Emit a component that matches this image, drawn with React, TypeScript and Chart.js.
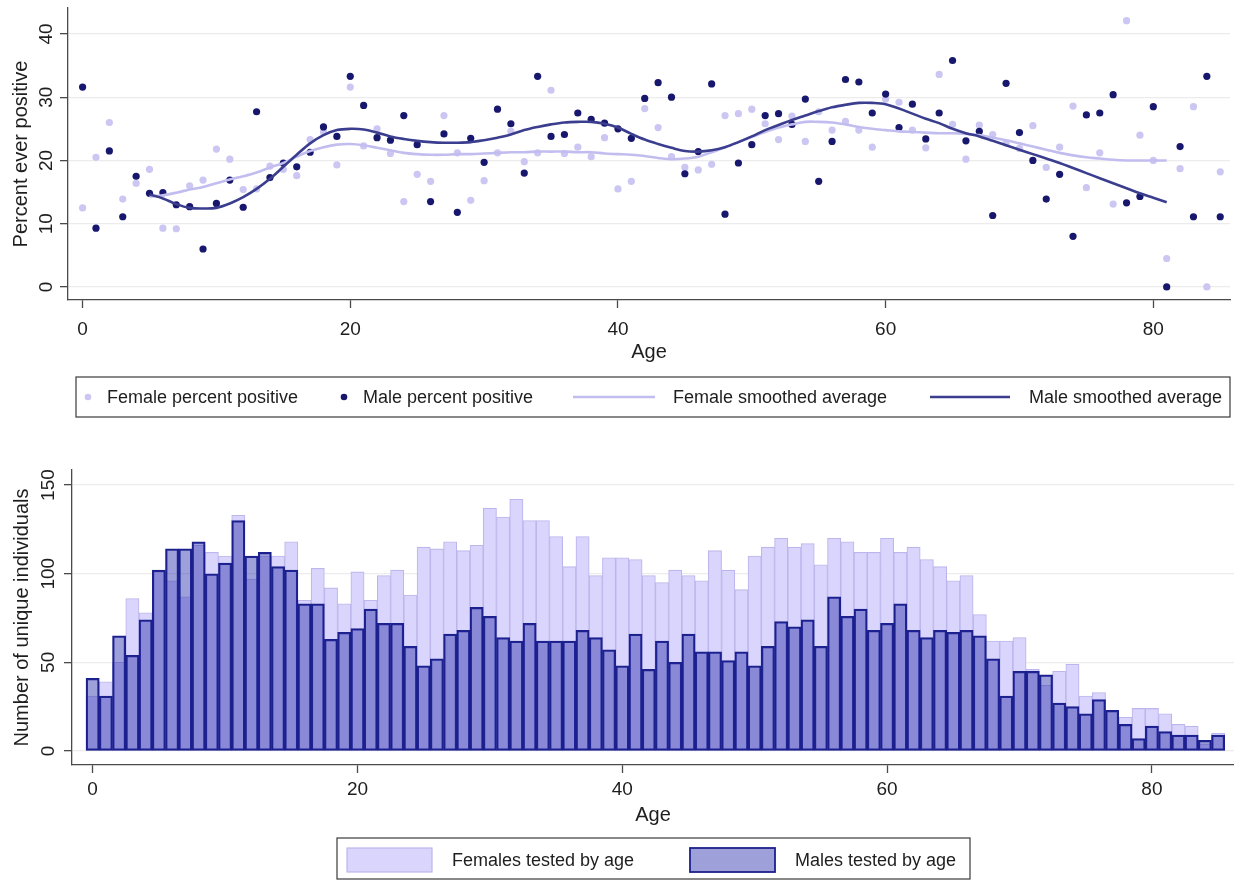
import React, { useEffect, useRef } from 'react';
import { Chart, registerables } from 'chart.js';

Chart.register(...registerables);

const FONT = "'Liberation Sans', Arial, sans-serif";

// ---------- data ----------
const ages = [
  0, 1, 2, 3, 4, 5, 6, 7, 8, 9, 10, 11, 12, 13, 14, 15, 16, 17, 18, 19,
  20, 21, 22, 23, 24, 25, 26, 27, 28, 29, 30, 31, 32, 33, 34, 35, 36, 37, 38, 39,
  40, 41, 42, 43, 44, 45, 46, 47, 48, 49, 50, 51, 52, 53, 54, 55, 56, 57, 58, 59,
  60, 61, 62, 63, 64, 65, 66, 67, 68, 69, 70, 71, 72, 73, 74, 75, 76, 77, 78, 79,
  80, 81, 82, 83, 84, 85,
];

const femalePct = [
  12.5, 20.5, 26.0, 13.9, 16.4, 18.6, 9.3, 9.2, 16.0, 16.9,
  21.8, 20.2, 15.4, 15.5, 19.1, 18.6, 17.6, 23.3, 24.5, 19.3,
  31.6, 22.3, 25.0, 21.1, 13.5, 17.8, 16.7, 27.1, 21.2, 13.7,
  16.8, 21.2, 24.6, 19.8, 21.2, 31.1, 21.1, 22.1, 20.6, 23.6,
  15.5, 16.7, 28.2, 25.2, 20.6, 18.9, 18.5, 19.4, 27.1, 27.4,
  28.1, 25.8, 23.3, 27.0, 23.0, 27.7, 24.8, 26.2, 24.8, 22.1,
  29.7, 29.2, 24.8, 22.0, 33.6, 25.7, 20.2, 25.6, 24.1, 22.7,
  21.9, 25.5, 18.9, 22.1, 28.6, 15.7, 21.2, 13.1, 42.1, 24.0,
  20.0, 4.5, 18.7, 28.5, 0.0, 18.2,
];

const malePct = [
  31.6, 9.3, 21.5, 11.1, 17.5, 14.8, 14.9, 13.0, 12.7, 6.0,
  13.2, 16.9, 12.6, 27.7, 17.3, 19.6, 19.0, 21.3, 25.3, 23.8,
  33.3, 28.7, 23.6, 23.2, 27.1, 22.5, 13.5, 24.2, 11.8, 23.5,
  19.7, 28.1, 25.8, 18.0, 33.3, 23.8, 24.1, 27.5, 26.5, 25.9,
  25.0, 23.5, 29.8, 32.3, 30.0, 17.9, 21.4, 32.1, 11.5, 19.6,
  22.5, 27.1, 27.4, 25.7, 29.7, 16.7, 23.0, 32.8, 32.4, 27.5,
  30.5, 25.2, 28.9, 23.4, 27.5, 35.8, 23.1, 24.6, 11.3, 32.2,
  24.4, 20.0, 13.9, 17.8, 8.0, 27.2, 27.5, 30.4, 13.3, 14.3,
  28.5, 0.0, 22.2, 11.1, 33.3, 11.1,
];

const smoothAges = ages.slice(5, 82);

const femaleSmooth = [
  14.3, 14.5, 14.9, 15.4, 15.8, 16.4, 17.0, 17.5, 18.1, 18.9,
  19.6, 20.6, 21.5, 22.1, 22.5, 22.6, 22.4, 22.0, 21.6, 21.2,
  21.0, 20.9, 20.9, 21.0, 21.0, 21.1, 21.2, 21.3, 21.3, 21.4,
  21.4, 21.4, 21.3, 21.3, 21.1, 21.0, 20.9, 20.7, 20.4, 20.2,
  20.3, 20.6, 21.3, 22.1, 22.9, 23.7, 24.5, 25.2, 25.7, 26.1,
  26.1, 26.0, 25.7, 25.3, 25.0, 24.8, 24.6, 24.5, 24.4, 24.3,
  24.3, 24.2, 24.0, 23.6, 23.2, 22.7, 22.2, 21.7, 21.2, 20.8,
  20.5, 20.3, 20.1, 20.0, 20.0, 20.0, 20.0,
];

const maleSmooth = [
  14.6, 14.0, 13.1, 12.5, 12.4, 12.5, 13.2, 14.2, 15.5, 17.1,
  19.0, 20.9, 22.7, 24.0, 24.8, 25.0, 24.9, 24.4, 23.8, 23.4,
  23.1, 22.9, 22.8, 22.8, 22.9, 23.2, 23.6, 24.1, 24.8, 25.3,
  25.7, 26.0, 26.1, 26.1, 25.8, 25.2, 24.2, 23.3, 22.6, 22.0,
  21.5, 21.4, 21.6, 22.1, 22.9, 23.8, 24.8, 25.6, 26.4, 27.1,
  27.8, 28.4, 28.8, 29.1, 29.1, 28.9, 28.2, 27.4, 26.6, 25.9,
  25.0, 24.3, 23.8, 23.1, 22.4, 21.7, 21.0, 20.3, 19.6, 18.8,
  18.0, 17.2, 16.4, 15.6, 14.8, 14.1, 13.4,
];

const femaleCounts = [
  31, 39, 50, 86, 78, 101, 96, 87, 116, 112,
  110, 133, 97, 110, 110, 118, 85, 103, 92, 83,
  101, 85, 99, 102, 88, 115, 114, 118, 113, 116,
  137, 132, 142, 130, 130, 121, 104, 121, 99, 109,
  109, 108, 99, 95, 102, 99, 96, 113, 102, 91,
  110, 115, 120, 115, 117, 105, 120, 118, 112, 112,
  120, 112, 115, 108, 104, 96, 99, 77, 62, 62,
  64, 46, 37, 45, 49, 31, 33, 23, 19, 24,
  24, 21, 15, 14, 4, 10,
];

const maleCounts = [
  41, 31, 65, 54, 74, 102, 114, 114, 118, 100,
  106, 130, 110, 112, 104, 102, 83, 83, 63, 67,
  69, 80, 72, 72, 59, 48, 52, 66, 68, 81,
  76, 64, 62, 72, 62, 62, 62, 68, 64, 57,
  48, 66, 46, 62, 50, 66, 56, 56, 51, 56,
  48, 59, 73, 70, 74, 59, 87, 76, 80, 68,
  72, 83, 68, 64, 68, 67, 68, 65, 52, 31,
  45, 45, 43, 27, 25, 21, 29, 23, 15, 7,
  14, 11, 9, 9, 6, 9,
];

const pctTicks = [0, 10, 20, 30, 40];
const countTicks = [0, 50, 100, 150];
const ageTicks = [0, 20, 40, 60, 80];

// ---------- styles ----------
const FEMALE_PT = '#cbc6f2';
const MALE_PT = '#17176e';
const FEMALE_LINE = '#c2bdef';
const MALE_LINE = '#3b3e8e';
const FEMALE_FILL = 'rgb(217,213,252)';
const FEMALE_BORDER = 'rgb(188,182,236)';
const MALE_FILL = 'rgba(40,45,170,0.45)';
const MALE_BORDER = 'rgb(28,32,140)';
const AXIS = '#4a4a4a';
const GRID = '#ececec';
const TEXT = '#1e1e1e';

const toXY = (xs: number[], ys: number[]) => ys.map((y, i) => ({ x: xs[i], y }));

type LegendItem = {
  kind: 'dot' | 'line' | 'box';
  x1: number;
  x2: number;
  textX: number;
  fill: string;
  stroke?: string;
  lw?: number;
  label: string;
};

function boxLegend(
  id: string,
  box: { x1: number; y1: number; x2: number; y2: number },
  cy: number,
  items: LegendItem[],
) {
  return {
    id,
    afterDraw(chart: any) {
      const ctx: CanvasRenderingContext2D = chart.ctx;
      ctx.save();
      ctx.strokeStyle = '#3a3a3a';
      ctx.lineWidth = 1.2;
      ctx.strokeRect(box.x1, box.y1, box.x2 - box.x1, box.y2 - box.y1);
      items.forEach((it) => {
        if (it.kind === 'dot') {
          ctx.beginPath();
          ctx.fillStyle = it.fill;
          ctx.arc(it.x1, cy, 3.3, 0, Math.PI * 2);
          ctx.fill();
        } else if (it.kind === 'line') {
          ctx.beginPath();
          ctx.strokeStyle = it.fill;
          ctx.lineWidth = it.lw || 2;
          ctx.moveTo(it.x1, cy);
          ctx.lineTo(it.x2, cy);
          ctx.stroke();
        } else {
          ctx.fillStyle = it.fill;
          ctx.fillRect(it.x1, cy - 12, it.x2 - it.x1, 24);
          ctx.strokeStyle = it.stroke || it.fill;
          ctx.lineWidth = it.lw || 1;
          ctx.strokeRect(it.x1, cy - 12, it.x2 - it.x1, 24);
        }
        ctx.font = `18px ${FONT}`;
        ctx.fillStyle = TEXT;
        ctx.textAlign = 'left';
        ctx.textBaseline = 'middle';
        ctx.fillText(it.label, it.textX, cy + 1);
      });
      ctx.restore();
    },
  };
}

function fixedScale(size: number, horizontal: boolean, tickValues: number[]) {
  return {
    afterBuildTicks: (scale: any) => {
      scale.ticks = tickValues.map((v) => ({ value: v }));
    },
    afterFit: (scale: any) => {
      if (horizontal) scale.height = size;
      else scale.width = size;
      scale.paddingTop = 0;
      scale.paddingBottom = 0;
      scale.paddingLeft = 0;
      scale.paddingRight = 0;
    },
  };
}

function topConfig(): any {
  return {
    type: 'scatter',
    data: {
      datasets: [
        {
          label: 'Male smoothed average',
          data: toXY(smoothAges, maleSmooth),
          showLine: true,
          borderColor: MALE_LINE,
          backgroundColor: MALE_LINE,
          borderWidth: 2.6,
          pointRadius: 0,
          tension: 0.35,
          order: 0,
        },
        {
          label: 'Female smoothed average',
          data: toXY(smoothAges, femaleSmooth),
          showLine: true,
          borderColor: FEMALE_LINE,
          backgroundColor: FEMALE_LINE,
          borderWidth: 2.6,
          pointRadius: 0,
          tension: 0.35,
          order: 1,
        },
        {
          label: 'Male percent positive',
          data: toXY(ages, malePct),
          pointRadius: 3.6,
          pointBorderWidth: 0,
          pointBackgroundColor: MALE_PT,
          borderColor: MALE_PT,
          backgroundColor: MALE_PT,
          order: 2,
        },
        {
          label: 'Female percent positive',
          data: toXY(ages, femalePct),
          pointRadius: 3.6,
          pointBorderWidth: 0,
          pointBackgroundColor: FEMALE_PT,
          borderColor: FEMALE_PT,
          backgroundColor: FEMALE_PT,
          order: 3,
        },
      ],
    },
    options: {
      animation: false,
      responsive: false,
      maintainAspectRatio: false,
      events: [],
      layout: { padding: { top: 8, right: 0, bottom: 65, left: 0 } },
      plugins: { legend: { display: false }, tooltip: { enabled: false } },
      scales: {
        x: {
          type: 'linear',
          min: -1.09,
          max: 85.73,
          ...fixedScale(65, true, ageTicks),
          grid: { drawOnChartArea: false, drawTicks: true, tickLength: 8, tickColor: AXIS, tickWidth: 1.3 },
          border: { color: AXIS, width: 1.3 },
          ticks: { color: TEXT, font: { family: FONT, size: 19 }, padding: 10.5, autoSkip: false, maxRotation: 0, includeBounds: false },
          title: { display: true, text: 'Age', color: TEXT, font: { family: FONT, size: 20 }, padding: { top: 0, bottom: 1 } },
        },
        y: {
          type: 'linear',
          min: -2.06,
          max: 44.1,
          ...fixedScale(68, false, pctTicks),
          grid: { color: GRID, lineWidth: 1.3, tickLength: 8, tickColor: AXIS, tickWidth: 1.3 },
          border: { color: AXIS, width: 1.3 },
          ticks: {
            color: TEXT,
            font: { family: FONT, size: 19 },
            minRotation: 90,
            maxRotation: 90,
            crossAlign: 'center',
            padding: 2.4,
            autoSkip: false,
            includeBounds: false,
          },
          title: { display: true, text: 'Percent ever positive', color: TEXT, font: { family: FONT, size: 20 }, padding: { top: 9, bottom: 0 } },
        },
      },
    },
    plugins: [
      boxLegend('topLegend', { x1: 76, y1: 377, x2: 1230, y2: 417 }, 397, [
        { kind: 'dot', x1: 88, x2: 88, textX: 107, fill: FEMALE_PT, label: 'Female percent positive' },
        { kind: 'dot', x1: 344, x2: 344, textX: 363, fill: MALE_PT, label: 'Male percent positive' },
        { kind: 'line', x1: 573, x2: 655, textX: 673, fill: FEMALE_LINE, lw: 2.4, label: 'Female smoothed average' },
        { kind: 'line', x1: 930, x2: 1010, textX: 1029, fill: MALE_LINE, lw: 2.4, label: 'Male smoothed average' },
      ]),
    ],
  };
}

function bottomConfig(): any {
  return {
    type: 'bar',
    data: {
      datasets: [
        {
          label: 'Males tested by age',
          data: toXY(ages, maleCounts),
          backgroundColor: MALE_FILL,
          borderColor: MALE_BORDER,
          borderWidth: 1.6,
          borderSkipped: false,
          grouped: false,
          barPercentage: 1,
          categoryPercentage: 1,
          order: 0,
        },
        {
          label: 'Females tested by age',
          data: toXY(ages, femaleCounts),
          backgroundColor: FEMALE_FILL,
          borderColor: FEMALE_BORDER,
          borderWidth: 1.1,
          borderSkipped: false,
          grouped: false,
          barPercentage: 1,
          categoryPercentage: 1,
          order: 1,
        },
      ],
    },
    options: {
      animation: false,
      responsive: false,
      maintainAspectRatio: false,
      events: [],
      layout: { padding: { top: 40, right: 0, bottom: 52, left: 0 } },
      plugins: { legend: { display: false }, tooltip: { enabled: false } },
      scales: {
        x: {
          type: 'linear',
          offset: false,
          min: -1.56,
          max: 86.2,
          ...fixedScale(63, true, ageTicks),
          grid: { offset: false, drawOnChartArea: false, drawTicks: true, tickLength: 8, tickColor: AXIS, tickWidth: 1.3 },
          border: { color: AXIS, width: 1.3 },
          ticks: { color: TEXT, font: { family: FONT, size: 19 }, padding: 5.6, autoSkip: false, maxRotation: 0, includeBounds: false },
          title: { display: true, text: 'Age', color: TEXT, font: { family: FONT, size: 20 }, padding: { top: 0, bottom: 1 } },
        },
        y: {
          type: 'linear',
          min: -7.9,
          max: 158.5,
          ...fixedScale(72, false, countTicks),
          grid: { color: GRID, lineWidth: 1.3, tickLength: 8, tickColor: AXIS, tickWidth: 1.3 },
          border: { color: AXIS, width: 1.3 },
          ticks: {
            color: TEXT,
            font: { family: FONT, size: 19 },
            minRotation: 90,
            maxRotation: 90,
            crossAlign: 'center',
            padding: -0.8,
            autoSkip: false,
            includeBounds: false,
          },
          title: { display: true, text: 'Number of unique individuals', color: TEXT, font: { family: FONT, size: 20 }, padding: { top: 10, bottom: 0 } },
        },
      },
    },
    plugins: [
      boxLegend('bottomLegend', { x1: 337, y1: 408, x2: 970, y2: 449 }, 430, [
        { kind: 'box', x1: 347, x2: 432, textX: 452, fill: FEMALE_FILL, stroke: FEMALE_BORDER, lw: 1.2, label: 'Females tested by age' },
        { kind: 'box', x1: 690, x2: 775, textX: 795, fill: MALE_FILL, stroke: MALE_BORDER, lw: 1.8, label: 'Males tested by age' },
      ]),
    ],
  };
}

export default function App() {
  const topRef = useRef<HTMLCanvasElement>(null);
  const botRef = useRef<HTMLCanvasElement>(null);

  useEffect(() => {
    const top = new Chart(topRef.current as HTMLCanvasElement, topConfig());
    const bot = new Chart(botRef.current as HTMLCanvasElement, bottomConfig());
    return () => {
      top.destroy();
      bot.destroy();
    };
  }, []);

  return (
    <div style={{ position: 'absolute', left: 0, top: 0, width: 1234, height: 880, background: '#ffffff', overflow: 'hidden' }}>
      <canvas ref={topRef} width={1234} height={430} style={{ position: 'absolute', left: 0, top: 0, width: 1234, height: 430 }} />
      <canvas ref={botRef} width={1234} height={450} style={{ position: 'absolute', left: 0, top: 430, width: 1234, height: 450 }} />
    </div>
  );
}
